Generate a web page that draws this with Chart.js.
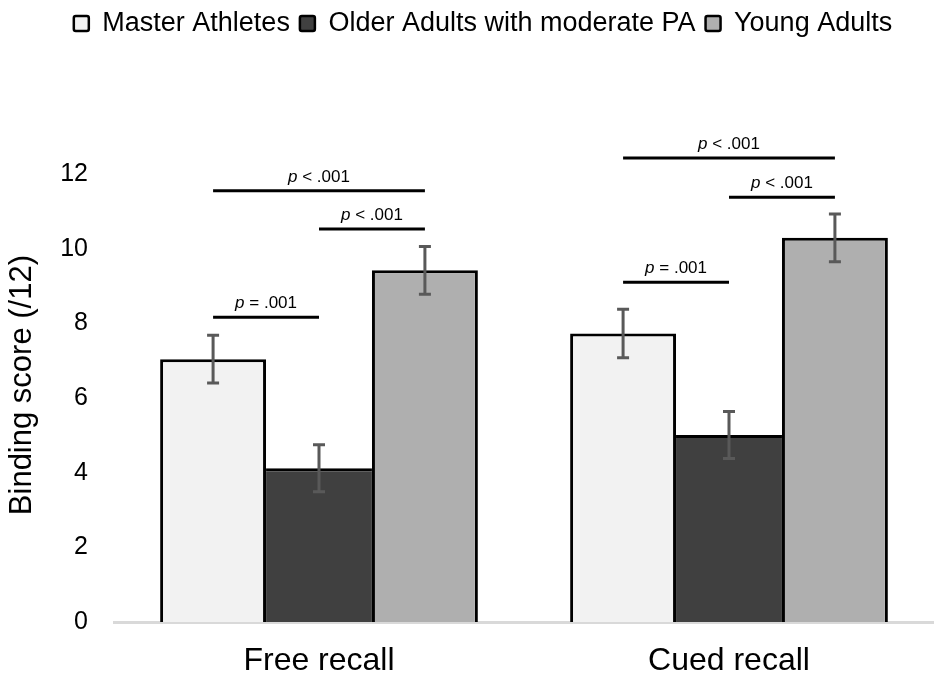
<!DOCTYPE html>
<html>
<head>
<meta charset="utf-8">
<script src="https://cdn.jsdelivr.net/npm/chart.js@4.4.1/dist/chart.umd.min.js"></script>
<style>
  html, body { margin: 0; padding: 0; background: #fff; }
</style>
</head>
<body>
<canvas id="chart" width="934" height="680"></canvas>
<script>
const categories = ['Free recall', 'Cued recall'];
const groups = ['Master Athletes', 'Older Adults with moderate PA', 'Young Adults'];
const masterAthletes = [7.04, 7.73];
const olderAdults = [4.12, 5.01];
const youngAdults = [9.42, 10.29];
const masterErr = [0.64, 0.65];
const olderErr = [0.63, 0.63];
const youngErr = [0.64, 0.64];
const yTicks = [0, 2, 4, 6, 8, 10, 12];

// significance brackets (category, from group, to group, height, label)
const sigCategory = [0, 0, 0, 1, 1, 1];
const sigFrom = [0, 1, 0, 0, 1, 0];
const sigTo = [1, 2, 2, 1, 2, 2];
const sigHeight = [8.16, 10.53, 11.55, 9.1, 11.38, 12.43];
const sigLabel = ['= .001', '< .001', '< .001', '= .001', '< .001', '< .001'];

const FONT = '"Liberation Sans", Arial, sans-serif';
const fills = ['#f2f2f2', '#404040', '#afafaf'];

// older adults bar is always the shortest, its side edges are drawn by the neighbours
const borders = [
  { top: 3, left: 3, right: 3, bottom: 0 },
  { top: 3, left: 0, right: 0, bottom: 0 },
  { top: 3, left: 3, right: 3, bottom: 0 },
];

// push the plot area down below the legend, and nudge the legend right
const legendSpacing = {
  id: 'legendSpacing',
  beforeInit(chart) {
    const fit = chart.legend.fit;
    chart.legend.fit = function () {
      fit.bind(chart.legend)();
      this.height += 127;
    };
  },
  afterLayout(chart) {
    chart.legend.left += 14;
    chart.legend.right += 14;
  }
};

const annotations = {
  id: 'annotations',
  afterDatasetsDraw(chart) {
    const ctx = chart.ctx;
    const y = chart.scales.y;
    ctx.save();

    // error bars
    ctx.strokeStyle = '#595959';
    ctx.lineWidth = 3;
    chart.data.datasets.forEach((ds, d) => {
      chart.getDatasetMeta(d).data.forEach((bar, i) => {
        const top = y.getPixelForValue(ds.data[i] + ds.err[i]);
        const bottom = y.getPixelForValue(ds.data[i] - ds.err[i]);
        ctx.beginPath();
        ctx.moveTo(bar.x, top);
        ctx.lineTo(bar.x, bottom);
        ctx.moveTo(bar.x - 6, top);
        ctx.lineTo(bar.x + 6, top);
        ctx.moveTo(bar.x - 6, bottom);
        ctx.lineTo(bar.x + 6, bottom);
        ctx.stroke();
      });
    });

    // significance lines
    ctx.strokeStyle = '#000';
    ctx.fillStyle = '#000';
    ctx.lineWidth = 3;
    ctx.textBaseline = 'alphabetic';
    sigHeight.forEach((h, k) => {
      const x1 = chart.getDatasetMeta(sigFrom[k]).data[sigCategory[k]].x;
      const x2 = chart.getDatasetMeta(sigTo[k]).data[sigCategory[k]].x;
      const ly = y.getPixelForValue(h);
      ctx.beginPath();
      ctx.moveTo(x1, ly);
      ctx.lineTo(x2, ly);
      ctx.stroke();

      const rest = ' ' + sigLabel[k];
      ctx.font = 'italic 17px ' + FONT;
      const pW = ctx.measureText('p').width;
      ctx.font = '17px ' + FONT;
      const rW = ctx.measureText(rest).width;
      const sx = (x1 + x2) / 2 - (pW + rW) / 2;
      ctx.font = 'italic 17px ' + FONT;
      ctx.fillText('p', sx, ly - 9);
      ctx.font = '17px ' + FONT;
      ctx.fillText(rest, sx + pW, ly - 9);
    });
    ctx.restore();
  }
};

const series = [masterAthletes, olderAdults, youngAdults];
const errors = [masterErr, olderErr, youngErr];

new Chart(document.getElementById('chart'), {
  type: 'bar',
  data: {
    labels: categories,
    datasets: groups.map((g, i) => ({
      label: g,
      data: series[i],
      err: errors[i],
      backgroundColor: fills[i],
      borderColor: '#000',
      borderWidth: borders[i],
      borderSkipped: false,
      categoryPercentage: 0.775,
      barPercentage: 1.0,
    })),
  },
  options: {
    responsive: false,
    animation: false,
    layout: { padding: { top: 0, right: -4, bottom: 0, left: 0 } },
    plugins: {
      tooltip: { enabled: false },
      legend: {
        position: 'top',
        labels: {
          font: { family: FONT, size: 27 },
          color: '#000',
          boxWidth: 15,
          boxHeight: 15,
          padding: 10,
          useBorderRadius: true,
          borderRadius: 2,
          generateLabels: (chart) => chart.data.datasets.map((ds, i) => ({
            text: ds.label,
            fillStyle: ds.backgroundColor,
            strokeStyle: '#000',
            lineWidth: 2.5,
            borderRadius: 2,
            fontColor: '#000',
            datasetIndex: i,
          })),
        },
      },
    },
    scales: {
      x: {
        afterFit(scale) { scale.height = 58; },
        grid: { display: false, drawTicks: false },
        border: { display: true, color: '#d9d9d9', width: 3 },
        ticks: { font: { family: FONT, size: 32 }, color: '#000', padding: 20 },
      },
      y: {
        min: 0,
        max: 12,
        afterFit(scale) { scale.width = 114; },
        afterBuildTicks(scale) { scale.ticks = yTicks.map(v => ({ value: v })); },
        grid: { display: false, drawTicks: false },
        border: { display: false },
        ticks: { font: { family: FONT, size: 25 }, color: '#000', padding: 26 },
        title: {
          display: true,
          text: '   Binding score (/12)',
          font: { family: FONT, size: 31 },
          color: '#000',
          padding: { top: 4, bottom: 0 },
        },
      },
    },
  },
  plugins: [legendSpacing, annotations],
});
</script>
</body>
</html>
